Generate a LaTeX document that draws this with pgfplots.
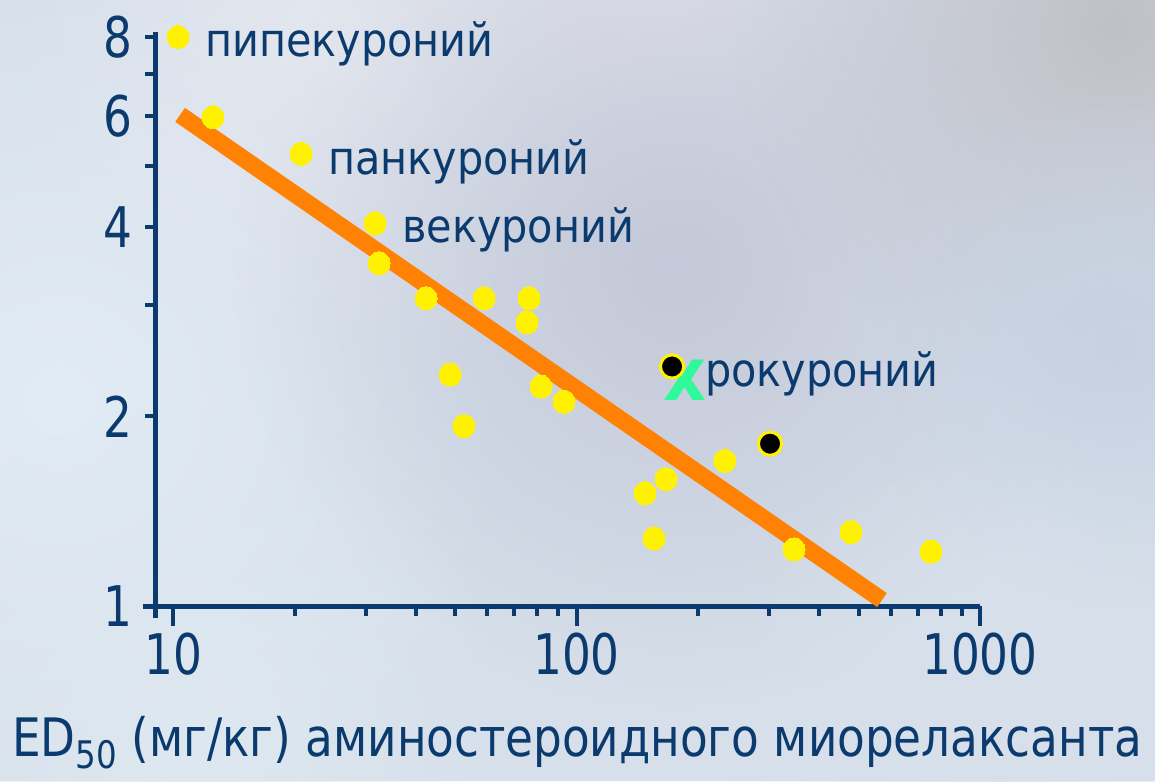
\documentclass[border=0pt]{standalone}
\usepackage{fontspec}
\setmainfont{DejaVu Sans Condensed}
\newfontfamily\tickfont[FakeStretch=0.9]{DejaVu Sans Condensed}
\newfontfamily\labfont[FakeStretch=0.95]{DejaVu Sans Condensed}
\usepackage{pgfplots}
\pgfplotsset{compat=1.18}
\usetikzlibrary{fadings}
\definecolor{navy}{HTML}{0B3A6E}
\definecolor{dotyellow}{HTML}{FFF200}
\definecolor{lineorange}{HTML}{FF8205}
\definecolor{xgreen}{HTML}{2EF99B}
\definecolor{bgbase}{HTML}{D6DFEA}
\tikzfading[name=softblob, inner color=transparent!0, outer color=transparent!100]
\begin{document}
\begin{tikzpicture}
% background (1px = 0.5pt, origin at axis lower-left corner)
\useasboundingbox (-77.5pt,-87.5pt) rectangle (500pt,303pt);
\fill[bgbase] (-77.5pt,-87.5pt) rectangle (500pt,303pt);
\begin{scope}
\clip (-77.5pt,-87.5pt) rectangle (500pt,303pt);
\fill[color={rgb,255:red,226;green,236;blue,245}, path fading=softblob] (-47.5pt,103pt) circle (230pt);
\fill[color={rgb,255:red,229;green,232;blue,239}, path fading=softblob] (97.5pt,280pt) circle (170pt);
\fill[color={rgb,255:red,228;green,228;blue,236}, path fading=softblob] (250pt,300pt) circle (120pt);
\fill[color={rgb,255:red,196;green,200;blue,216}, path fading=softblob] (260pt,170pt) circle (220pt);
\fill[color={rgb,255:red,192;green,192;blue,199}, path fading=softblob] (480pt,290pt) circle (190pt);
\fill[color={rgb,255:red,198;green,210;blue,226}, path fading=softblob] (480pt,130pt) circle (130pt);
\fill[color={rgb,255:red,216;green,224;blue,235}, path fading=softblob] (422.5pt,-70pt) circle (160pt);
\fill[color={rgb,255:red,222;green,232;blue,240}, path fading=softblob] (20pt,-70pt) circle (170pt);
\end{scope}
\begin{axis}[
  at={(0pt,0pt)}, anchor=south west,
  scale only axis, width=412.5pt, height=287pt,
  xmode=log, ymode=log,
  xmin=9.02, xmax=1000, ymin=1, ymax=8.15,
  axis lines=left,
  axis line style={-, line width=2.5pt, draw=navy},
  x axis line style={shorten <=-6pt},
  y axis line style={shorten <=-6pt},
  clip=false,
  tick align=outside,
  major tick length=5pt, minor tick length=5pt,
  tick style={line width=2pt, draw=navy},
  xtick={10,100,1000}, xticklabels={10,100,1000},
  minor xtick={20,30,40,50,60,70,80,90,200,300,400,500,600,700,800,900},
  extra x ticks={10,100,1000}, extra x tick labels={},
  extra x tick style={major tick length=10pt},
  ytick={1,2,3,4,5,6,7,8}, yticklabels={1,2,,4,,6,,8},
  yminorticks=false,
  ticklabel style={font=\tickfont\fontsize{28}{32}\selectfont, text=navy},
  xticklabel style={yshift=-5pt},
  yticklabel style={xshift=-3pt},
  xlabel={ED\raisebox{-6pt}{\fontsize{19}{21}\selectfont 50} (мг/кг) аминостероидного миорелаксанта},
  xlabel style={at={(axis description cs:0.512,-0.262)}, anchor=base, inner sep=0pt, font=\labfont\fontsize{26.5}{30}\selectfont, text=navy},
]
\addplot[lineorange, line width=8.5pt] coordinates {(10.41,6.02) (571.6,1.022)};
\addplot[only marks, color=dotyellow, mark=*, mark size=5.5pt, mark options={fill=dotyellow, draw=dotyellow, line width=0pt, yscale=1.05}] coordinates {
(10.29,8.00) (12.56,5.97) (20.76,5.22) (31.67,4.05) (32.4,3.50)
(42.4,3.08) (59.0,3.08) (76.3,3.08) (75.4,2.82) (48.6,2.33)
(52.6,1.93) (81.7,2.23) (93.1,2.11) (233,1.70) (166.7,1.59)
(147.9,1.51) (155.6,1.28) (346,1.23) (479,1.31) (756,1.22)
};
\addplot[only marks, mark=*, mark size=5.8pt, mark options={fill=black, draw=dotyellow, line width=1.5pt}] coordinates {
(172.5,2.40) (301.7,1.81)
};
\node[anchor=base west, inner sep=0pt, text=navy, font=\fontsize{23}{27}\selectfont] at (axis cs:12.0,7.44) {пипекуроний};
\node[anchor=base west, inner sep=0pt, text=navy, font=\fontsize{23}{27}\selectfont] at (axis cs:24.2,4.85) {панкуроний};
\node[anchor=base west, inner sep=0pt, text=navy, font=\fontsize{23}{27}\selectfont] at (axis cs:36.9,3.78) {векуроний};
\node[anchor=base west, inner sep=0pt, text=navy, font=\fontsize{23}{27}\selectfont] at (axis cs:208,2.227) {рокуроний};
\node[anchor=center, inner sep=0pt, text=xgreen, font=\fontsize{37}{41}\selectfont\bfseries] at (axis cs:185.7,2.284) {x};
\end{axis}
\end{tikzpicture}
\end{document}
